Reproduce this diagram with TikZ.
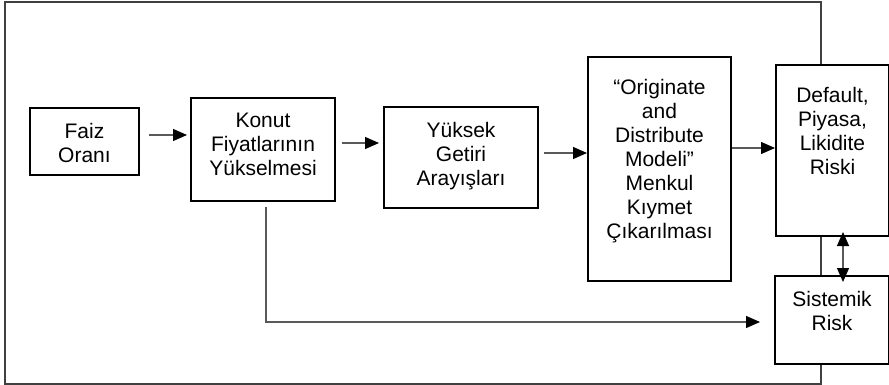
\documentclass[tikz,border=0pt]{standalone}
\usepackage{fontspec}
\setmainfont{Liberation Sans}
\usetikzlibrary{arrows.meta}
\tikzset{
  every node/.style={font=\fontsize{10.5}{12}\selectfont,text=black},
  box/.style={draw=black,line width=1pt,fill=white,anchor=north west,inner xsep=0pt,inner ysep=7.5pt},
  tallbox/.style={box,inner ysep=11.25pt},
  arrow/.style={draw=black!65,line width=0.6pt,-{Triangle[length=7pt,width=6pt,color=black]}},
  twoway/.style={arrow,{Triangle[length=7pt,width=6pt,color=black]}-{Triangle[length=7pt,width=6pt,color=black]}},
  frame/.style={draw=black!75,line width=0.6pt},
}
\newcommand{\boxtext}[3]{\parbox[c][#2][t]{#1}{\centering #3}}

\begin{document}
\begin{tikzpicture}[x=0.5pt,y=-0.5pt]
  \useasboundingbox (0,0) rectangle (889,385);
  \draw[frame] (5,2) rectangle (821,384);
  \node[box] (faiz) at (29,107) {\boxtext{54.5pt}{18.5pt}{Faiz\\Oranı}};
  \node[box] (konut) at (190,97) {\boxtext{72pt}{36.5pt}{Konut\\Fiyatlarının\\Yükselmesi}};
  \node[box] (yuksek) at (383,106) {\boxtext{77pt}{35.5pt}{Yüksek\\Getiri\\Arayışları}};
  \node[tallbox] (orig) at (587,56) {\boxtext{71.5pt}{89.5pt}{“Originate\\and\\Distribute\\Modeli"\\Menkul\\Kıymet\\Çıkarılması}};
  \node[tallbox] (default) at (775,64) {\boxtext{56.5pt}{63pt}{Default,\\Piyasa,\\Likidite\\Riski}};
  \node[box] (sistemik) at (774,275) {\boxtext{57pt}{29pt}{Sistemik\\Risk}};
  \draw[arrow,shorten <=4.5pt,shorten >=1.5pt] (faiz.east |- 0,135) -- (konut.west |- 0,135);
  \draw[arrow,shorten <=3pt,shorten >=2pt] (konut.east |- 0,143) -- (yuksek.west |- 0,143);
  \draw[arrow,shorten <=2.5pt] (yuksek.east |- 0,153) -- (orig.west |- 0,153);
  \draw[arrow] (orig.east |- 0,148) -- (default.west |- 0,148);
  \draw[twoway,shorten <=-2.5pt,shorten >=-3.5pt] (default.south -| 843,0) -- (sistemik.north -| 843,0);
  \draw[arrow,shorten <=2.5pt,shorten >=7pt] (konut.south -| 266,0) |- (sistemik.west |- 0,322);
\end{tikzpicture}
\end{document}
